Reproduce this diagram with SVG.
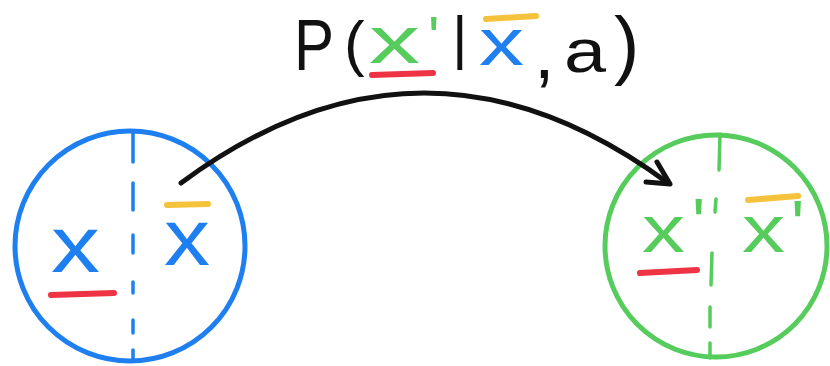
<svg xmlns="http://www.w3.org/2000/svg" width="830" height="366" viewBox="0 0 830 366">
<style>
.s{font-family:"Liberation Sans",Arial,sans-serif}
.bk{fill:#111}
.bl{fill:#1e7ff0}
.gr{fill:#55cc5c}
.mk{stroke-linecap:round;fill:none}
.red{stroke:#ee3344;stroke-width:6}
.yel{stroke:#f5c33b;stroke-width:6}
.bd{stroke:#1e7ff0;stroke-width:3.5;stroke-linecap:round}
.gd{stroke:#55cc5c;stroke-width:3.5;stroke-linecap:round}
</style>
<rect width="830" height="366" fill="#fff"/>
<g id="title">
<text class="s bk"><tspan x="294" y="70" font-size="72" textLength="40" lengthAdjust="spacingAndGlyphs">P</tspan><tspan x="344" y="64" font-size="62">(</tspan><tspan class="gr" x="369" y="63" font-size="66" textLength="51" lengthAdjust="spacingAndGlyphs">x</tspan><tspan class="gr" x="428" y="58" font-size="60">'</tspan><tspan x="452" y="58" font-size="60">|</tspan><tspan class="bl" x="479" y="65" font-size="66" textLength="45" lengthAdjust="spacingAndGlyphs">x</tspan><tspan x="534" y="78" font-size="74">,</tspan><tspan x="564" y="72" font-size="62" textLength="42" lengthAdjust="spacingAndGlyphs">a</tspan><tspan x="614" y="70" font-size="76">)</tspan></text>
<path class="mk red" d="M372,75 L433,73"/>
<path class="mk yel" d="M486,19 L536,16"/>
</g>
<g id="state-x">
<circle cx="130" cy="246" r="115" fill="none" stroke="#1e7ff0" stroke-width="5"/>
<path class="bd" d="M133,133 V162 M133,183 V210 M133,235 V253 M133,282 V293 M133,320 V333 M133,350 V360"/>
<text class="s bl" x="51" y="272" font-size="80" textLength="49" lengthAdjust="spacingAndGlyphs">x</text>
<text class="s bl" x="164" y="265" font-size="80" textLength="46" lengthAdjust="spacingAndGlyphs">x</text>
<path class="mk red" d="M51,295 L114,293"/>
<path class="mk yel" d="M167,205 L208,204"/>
</g>
<g id="state-x-prime">
<circle cx="716" cy="246" r="111" fill="none" stroke="#55cc5c" stroke-width="5"/>
<path class="gd" d="M720,134 L719,170 M716,199 L715,212 M712,253 L711,285 M710,307 L710,327 M710,343 L710,358"/>
<text class="s gr"><tspan x="642" y="252" font-size="66" textLength="43" lengthAdjust="spacingAndGlyphs">x</tspan><tspan x="692" y="248" font-size="70">'</tspan></text>
<text class="s gr"><tspan x="742" y="252" font-size="66" textLength="43" lengthAdjust="spacingAndGlyphs">x</tspan><tspan x="791" y="250" font-size="70">'</tspan></text>
<path class="mk red" d="M640,273 L697,270"/>
<path class="mk yel" d="M748,200 L798,196"/>
</g>
<g id="connectors">
<path d="M181,183 Q424,3 668,183" fill="none" stroke="#111" stroke-width="5" stroke-linecap="round"/>
<path d="M657,162 L670,184 L646,182" fill="none" stroke="#111" stroke-width="5" stroke-linecap="round" stroke-linejoin="round"/>
</g>
</svg>
